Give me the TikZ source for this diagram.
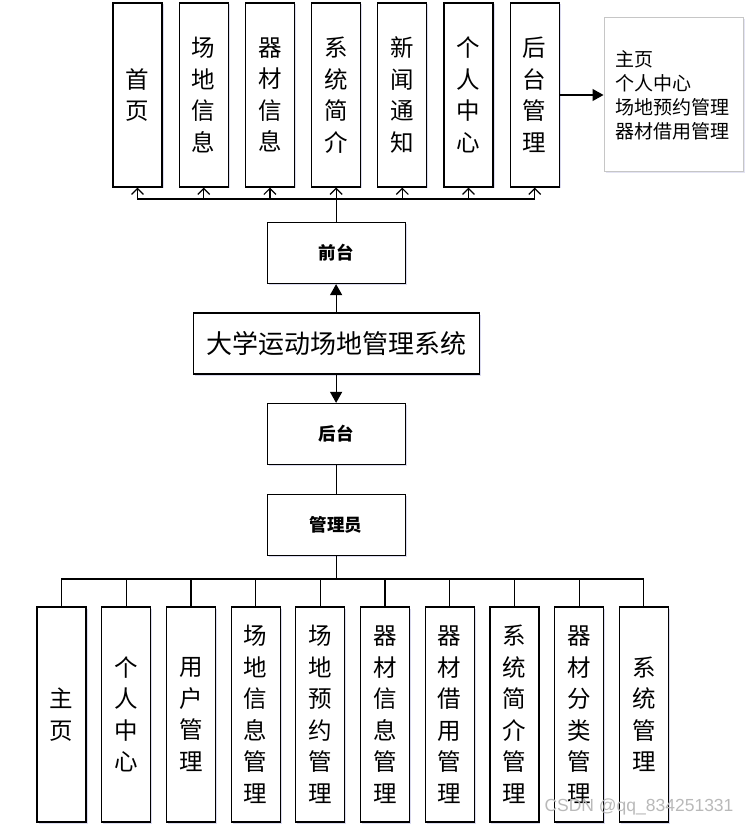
\documentclass[tikz,border=0pt]{standalone}
\usepackage{fontspec}
\setmainfont{Noto Sans CJK SC}
\newfontfamily\wmfont{Liberation Sans}
\usepackage{tikz}
\usetikzlibrary{arrows.meta,shadows,positioning}
\tikzstyle{vbox}=[draw=black, fill=white, line width=1.2pt, minimum width=49pt, minimum height=184pt, inner sep=0pt, align=center, font=\fontsize{23.5}{31.5}\selectfont, drop shadow={shadow xshift=1.5pt, shadow yshift=-1.5pt, fill=blue!40!gray, opacity=0.2}]
\tikzstyle{lbox}=[vbox, minimum height=215pt]
\tikzstyle{hbox}=[draw=black, fill=white, line width=1.2pt, minimum width=138pt, minimum height=61pt, font=\fontsize{17.5}{20}\selectfont\bfseries, drop shadow={shadow xshift=1.5pt, shadow yshift=-1.5pt, fill=blue!40!gray, opacity=0.2}]
\tikzstyle{link}=[line width=1.2pt]
\tikzstyle{fill arrow}=[line width=1.2pt, -{Triangle[length=11pt, width=12pt]}]
\tikzstyle{open arrow}=[line width=1.2pt, -{Straight Barb[length=6pt, width=12pt]}]

\begin{document}
\begin{tikzpicture}[x=1pt, y=-1pt]
        \useasboundingbox (0,0) rectangle (749,826);
        % front end
        \node at (137.5,95) [vbox] (shouye) {首\\页};
        \node at (203.7,95) [vbox] (cdxx) {场\\地\\信\\息};
        \node at (269.9,95) [vbox] (qcxx) {器\\材\\信\\息};
        \node at (336.1,95) [vbox] (xtjj) {系\\统\\简\\介};
        \node at (402.3,95) [vbox] (xwtz) {新\\闻\\通\\知};
        \node at (468.5,95) [vbox] (grzx) {个\\人\\中\\心};
        \node at (534.7,95) [vbox] (htgl) {后\\台\\管\\理};
        \node at (673.5,95) [draw=gray!45, fill=white, line width=1pt, inner xsep=11pt, inner ysep=0pt, text width=117pt, minimum height=154pt, align=left, font=\fontsize{19}{24}\selectfont, drop shadow={shadow xshift=1.5pt, shadow yshift=-1.5pt, fill=blue!40!gray, opacity=0.15}] (menu) {主页\\个人中心\\场地预约管理\\器材借用管理};
        \draw [fill arrow] (htgl.east) -- (menu.west);
        %
        \node at (336.1,253) [hbox] (qiantai) {前台};
        \node at (336.1,343.5) [hbox, minimum width=286pt, font=\fontsize{26}{28}\selectfont] (sys) {大学运动场地管理系统};
        \node at (336.1,434) [hbox] (houtai) {后台};
        \node at (336.1,525) [hbox] (admin) {管理员};
        \coordinate (topbus) at (336.1,199);
        \draw [link] (qiantai.north) -- (topbus);
        \draw [open arrow] (topbus) -| (shouye.south);
        \draw [open arrow] (topbus) -| (cdxx.south);
        \draw [open arrow] (topbus) -| (qcxx.south);
        \draw [open arrow] (topbus) -- (xtjj.south);
        \draw [open arrow] (topbus) -| (xwtz.south);
        \draw [open arrow] (topbus) -| (grzx.south);
        \draw [open arrow] (topbus) -| (htgl.south);
        \draw [fill arrow] (sys.north) -- (qiantai.south);
        \draw [fill arrow] (sys.south) -- (houtai.north);
        \draw [link] (houtai.south) -- (admin.north);
        % back end
        \node at (61.5,714.5) [lbox] (bzy) {主\\页};
        \node at (126.2,714.5) [lbox] (bgrzx) {个\\人\\中\\心};
        \node at (190.9,714.5) [lbox] (byhgl) {用\\户\\管\\理};
        \node at (255.6,714.5) [lbox] (bcdxx) {场\\地\\信\\息\\管\\理};
        \node at (320.3,714.5) [lbox] (bcdyy) {场\\地\\预\\约\\管\\理};
        \node at (385.0,714.5) [lbox] (bqcxx) {器\\材\\信\\息\\管\\理};
        \node at (449.7,714.5) [lbox] (bqcjy) {器\\材\\借\\用\\管\\理};
        \node at (514.4,714.5) [lbox] (bxtjj) {系\\统\\简\\介\\管\\理};
        \node at (579.1,714.5) [lbox] (bqcfl) {器\\材\\分\\类\\管\\理};
        \node at (643.8,714.5) [lbox] (bxtgl) {系\\统\\管\\理};
        \coordinate (lowbus) at (336.1,579);
        \draw [link] (admin.south) -- (lowbus);
        \draw [link] (lowbus) -| (bzy.north);
        \draw [link] (lowbus) -| (bgrzx.north);
        \draw [link] (lowbus) -| (byhgl.north);
        \draw [link] (lowbus) -| (bcdxx.north);
        \draw [link] (lowbus) -| (bcdyy.north);
        \draw [link] (lowbus) -| (bqcxx.north);
        \draw [link] (lowbus) -| (bqcjy.north);
        \draw [link] (lowbus) -| (bxtjj.north);
        \draw [link] (lowbus) -| (bqcfl.north);
        \draw [link] (lowbus) -| (bxtgl.north);
        %
        \node at (639,807) [text=gray!55, font=\wmfont\fontsize{17.5}{18}\selectfont] (mark) {CSDN @qq\_834251331};
      \end{tikzpicture}
\end{document}
